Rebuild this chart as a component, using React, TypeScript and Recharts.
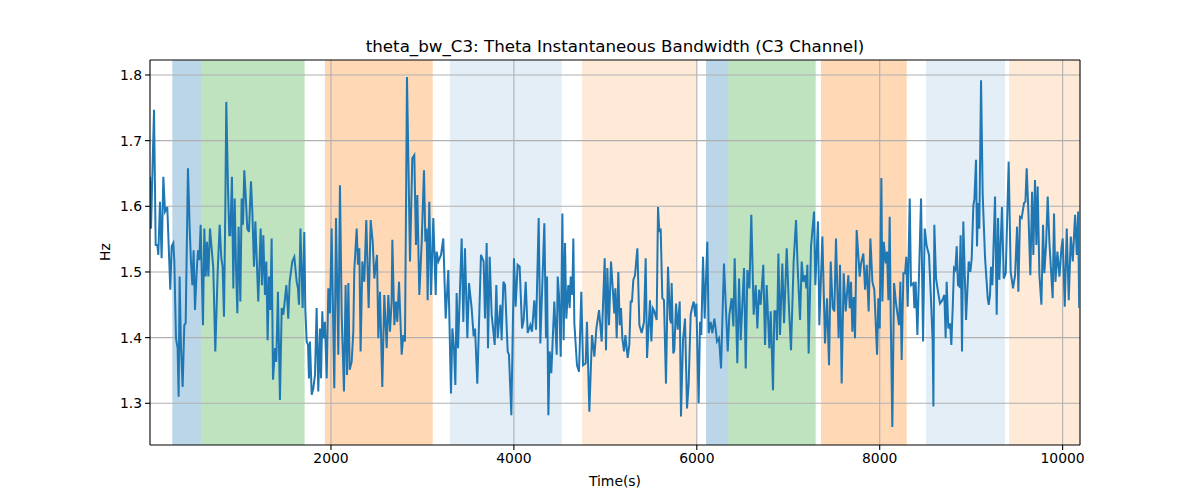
import React from "react";
import {
  Label,
  Line,
  LineChart,
  ReferenceArea,
  ReferenceLine,
  XAxis,
  YAxis,
} from "recharts";

// time (s) of each sample
const times = [
  21, 32, 65, 83, 101, 112, 130, 148, 167, 185, 210, 229, 243, 258, 276, 287, 305, 323, 334, 345,
  360, 378, 396, 411, 436, 455, 469, 484, 498, 513, 531, 546, 560, 575, 600, 615, 630, 644, 659, 677,
  695, 713, 735, 761, 783, 801, 815, 830, 845, 855, 874, 888, 899, 917, 932, 947, 961, 976, 990, 1009,
  1023, 1038, 1052, 1067, 1085, 1103, 1125, 1140, 1158, 1173, 1187, 1205, 1231, 1245, 1260, 1278, 1293, 1307, 1322, 1337,
  1351, 1366, 1388, 1402, 1420, 1442, 1461, 1479, 1512, 1533, 1548, 1577, 1599, 1625, 1639, 1650, 1666, 1690, 1708,
  1719, 1734, 1749, 1759, 1770, 1789, 1807, 1825, 1843, 1861, 1880, 1891, 1905, 1916, 1934, 1953, 1971, 1989, 2007, 2036,
  2055, 2080, 2098, 2117, 2142, 2160, 2175, 2190, 2204, 2226, 2244, 2255, 2281, 2295, 2310, 2324, 2343, 2364, 2386, 2412,
  2434, 2456, 2474, 2503, 2518, 2536, 2561, 2583, 2609, 2627, 2645, 2663, 2671, 2693, 2711, 2725, 2744, 2773, 2791, 2809,
  2831, 2864, 2889, 2911, 2929, 2944, 2966, 2992, 3017, 3032, 3046, 3057, 3075, 3094, 3119, 3145, 3155, 3174, 3203, 3228,
  3254, 3283, 3312, 3327, 3345, 3360, 3374, 3389,
  3429, 3447, 3465, 3491, 3509, 3538, 3560, 3575, 3600, 3618, 3640, 3669, 3684, 3702, 3717, 3735, 3757, 3790, 3808, 3823,
  3852, 3866, 3885, 3903, 3932, 3946, 3972, 4001, 4019, 4041, 4063, 4089, 4107, 4129, 4151, 4180, 4198, 4223, 4242, 4271,
  4289, 4333, 4351, 4362, 4377, 4391, 4409, 4442, 4468, 4479, 4493, 4512, 4530, 4544, 4559, 4573, 4595, 4610, 4621, 4639,
  4650, 4661, 4690, 4712, 4737, 4756, 4785, 4799, 4825, 4854, 4880, 4902, 4931, 4960, 4993, 5007, 5022, 5040, 5062, 5098,
  5109, 5124, 5142, 5157, 5171, 5186, 5204, 5219, 5244, 5262, 5277, 5291, 5306, 5324, 5350, 5372, 5397, 5423, 5441, 5456,
  5488, 5503, 5518, 5536, 5561, 5576, 5590, 5605, 5623, 5641, 5663, 5685, 5707, 5718, 5725, 5743, 5754, 5773, 5791, 5813,
  5827, 5849, 5871, 5893, 5911, 5933, 5948, 5966, 5984, 5995, 6020, 6035, 6049, 6068, 6086, 6115, 6130, 6152, 6170, 6192,
  6206, 6221, 6243, 6265, 6297, 6319, 6338, 6356, 6381, 6400, 6414, 6443, 6462, 6480, 6516, 6535, 6553, 6575, 6596, 6622,
  6644, 6662, 6680, 6698, 6727, 6746, 6764, 6793,
  6808, 6833, 6848, 6866, 6877, 6892, 6910, 6935, 6954, 6983, 7008, 7030, 7059, 7085, 7103, 7129, 7147, 7165, 7183, 7198,
  7209, 7223, 7249, 7282, 7296, 7325, 7340, 7373, 7402, 7424, 7446, 7464, 7486, 7504, 7522, 7551, 7566, 7584, 7606, 7628,
  7657, 7672, 7686, 7701, 7715, 7730, 7748, 7781, 7796, 7821, 7840, 7858, 7879, 7898, 7920, 7941, 7971, 7985, 8000, 8018,
  8029, 8044, 8066, 8080, 8095, 8109, 8120, 8138, 8157, 8178, 8211, 8226, 8240, 8259, 8277, 8291, 8306, 8328, 8342, 8368,
  8379, 8393, 8412, 8452, 8474,
  8492, 8514, 8539, 8557, 8579, 8587, 8597, 8616, 8634, 8659, 8685, 8707, 8721, 8732, 8750, 8769, 8783, 8798, 8812, 8827,
  8842, 8856, 8871, 8885, 8900, 8914, 8944, 8973, 8991, 9006, 9024, 9035, 9053, 9064, 9075, 9089, 9108, 9126, 9152, 9181,
  9192, 9206, 9217, 9232, 9261, 9279, 9294, 9308, 9337, 9356, 9378, 9410, 9432, 9458, 9480, 9502, 9516, 9534, 9552, 9578,
  9593, 9607, 9625, 9647, 9666, 9680, 9698, 9713, 9727, 9746, 9768, 9786, 9800, 9819, 9837, 9855, 9891, 9906, 9921, 9943,
  9965, 9987, 10001, 10023, 10045, 10067, 10089, 10111, 10136, 10155, 10170, 10181, 10190,
];

// theta instantaneous bandwidth, Hz
const bandwidth = [
  1.645, 1.566, 1.747, 1.541, 1.541, 1.526, 1.607, 1.521, 1.645, 1.592, 1.599, 1.526, 1.473, 1.539, 1.544, 1.516, 1.399, 1.384, 1.31, 1.493,
  1.384, 1.325, 1.419, 1.422, 1.658, 1.566, 1.516, 1.48, 1.533, 1.442, 1.5, 1.533, 1.518, 1.572, 1.419, 1.566, 1.493, 1.546, 1.493, 1.566,
  1.536, 1.506, 1.379, 1.5, 1.572, 1.521, 1.508, 1.432, 1.602, 1.759, 1.627, 1.556, 1.556, 1.645, 1.475, 1.612, 1.511, 1.437, 1.569, 1.455,
  1.612, 1.572, 1.655, 1.617, 1.566, 1.561, 1.638, 1.592, 1.508, 1.577, 1.523, 1.455, 1.566, 1.48, 1.556, 1.465, 1.516, 1.396, 1.493, 1.442,
  1.551, 1.336, 1.384, 1.363, 1.47, 1.305, 1.445, 1.435, 1.48, 1.429, 1.485, 1.516, 1.523, 1.485, 1.475, 1.45, 1.566, 1.445, 1.561,
  1.445, 1.394, 1.389, 1.338, 1.394, 1.313, 1.323, 1.343, 1.445, 1.318, 1.414, 1.338, 1.44, 1.399, 1.424, 1.338, 1.475, 1.437, 1.566, 1.323,
  1.582, 1.374, 1.632, 1.435, 1.318, 1.48, 1.343, 1.483, 1.351, 1.363, 1.409, 1.503, 1.566, 1.511, 1.536, 1.379, 1.516, 1.485, 1.579, 1.445,
  1.579, 1.546, 1.49, 1.526, 1.399, 1.47, 1.325, 1.465, 1.384, 1.465, 1.409, 1.455, 1.549, 1.419, 1.455, 1.424, 1.485, 1.374, 1.404, 1.394,
  1.797, 1.516, 1.673, 1.678, 1.541, 1.617, 1.465, 1.546, 1.655, 1.546, 1.566, 1.457, 1.607, 1.465, 1.582, 1.465, 1.531, 1.516, 1.526, 1.551,
  1.429, 1.503, 1.315, 1.414, 1.384, 1.328, 1.468, 1.384,
  1.551, 1.424, 1.536, 1.399, 1.483, 1.445, 1.402, 1.414, 1.33, 1.419, 1.526, 1.516, 1.429, 1.544, 1.384, 1.523, 1.435, 1.389, 1.48, 1.399,
  1.45, 1.396, 1.485, 1.48, 1.379, 1.374, 1.282, 1.521, 1.447, 1.511, 1.508, 1.414, 1.427, 1.485, 1.407, 1.419, 1.409, 1.457, 1.412, 1.582,
  1.391, 1.574, 1.399, 1.493, 1.282, 1.379, 1.346, 1.455, 1.374, 1.493, 1.465, 1.371, 1.589, 1.396, 1.544, 1.429, 1.48, 1.445, 1.493, 1.465,
  1.551, 1.422, 1.358, 1.348, 1.47, 1.358, 1.361, 1.424, 1.287, 1.404, 1.371, 1.414, 1.442, 1.394, 1.521, 1.381, 1.506, 1.419, 1.516, 1.437,
  1.475, 1.399, 1.5, 1.419, 1.445, 1.399, 1.379, 1.404, 1.369, 1.389, 1.455, 1.455, 1.488, 1.495, 1.536, 1.419, 1.407, 1.424, 1.521, 1.369,
  1.457, 1.394, 1.445, 1.44, 1.427, 1.599, 1.561, 1.566, 1.46, 1.457, 1.33, 1.508, 1.429, 1.422, 1.483, 1.376, 1.381, 1.452, 1.412, 1.455,
  1.28, 1.396, 1.429, 1.292, 1.33, 1.435, 1.445, 1.455, 1.432, 1.452, 1.3, 1.424, 1.404, 1.523, 1.429, 1.546, 1.407, 1.424, 1.407, 1.429,
  1.414, 1.394, 1.399, 1.353, 1.513, 1.442, 1.379, 1.435, 1.46, 1.417, 1.521, 1.361, 1.49, 1.396, 1.506, 1.353, 1.503, 1.475, 1.587, 1.435,
  1.48, 1.414, 1.473, 1.45, 1.511, 1.389, 1.48, 1.384,
  1.44, 1.32, 1.44, 1.44, 1.396, 1.528, 1.404, 1.513, 1.422, 1.536, 1.445, 1.381, 1.516, 1.579, 1.506, 1.427, 1.516, 1.485, 1.495, 1.475,
  1.511, 1.376, 1.539, 1.592, 1.48, 1.577, 1.419, 1.554, 1.391, 1.46, 1.358, 1.516, 1.445, 1.44, 1.551, 1.399, 1.511, 1.33, 1.498, 1.44,
  1.495, 1.445, 1.485, 1.409, 1.462, 1.399, 1.564, 1.493, 1.513, 1.528, 1.473, 1.511, 1.44, 1.551, 1.485, 1.473, 1.374, 1.46, 1.414, 1.643,
  1.455, 1.546, 1.513, 1.531, 1.457, 1.584, 1.435, 1.264, 1.483, 1.452, 1.419, 1.485, 1.366, 1.498, 1.498, 1.523, 1.447, 1.612, 1.48, 1.483,
  1.445, 1.485, 1.404, 1.612, 1.394,
  1.566, 1.539, 1.526, 1.47, 1.394, 1.295, 1.572, 1.49, 1.473, 1.452, 1.457, 1.465, 1.399, 1.485, 1.414, 1.422, 1.389, 1.445, 1.506, 1.503,
  1.539, 1.48, 1.478, 1.556, 1.379, 1.577, 1.427, 1.516, 1.5, 1.521, 1.602, 1.61, 1.671, 1.539, 1.605, 1.566, 1.792, 1.617, 1.521, 1.46,
  1.45, 1.465, 1.508, 1.48, 1.615, 1.435, 1.582, 1.488, 1.599, 1.49, 1.498, 1.668, 1.5, 1.475, 1.495, 1.569, 1.47, 1.584, 1.582, 1.605,
  1.607, 1.658, 1.594, 1.495, 1.622, 1.526, 1.64, 1.541, 1.63, 1.495, 1.45, 1.572, 1.498, 1.541, 1.615, 1.546, 1.46, 1.589, 1.485, 1.531,
  1.493, 1.536, 1.551, 1.447, 1.566, 1.457, 1.554, 1.516, 1.587, 1.526, 1.592, 1.445, 1.508,
];

// shaded stages along the recording
const bandStarts = [265, 586, 1934, 3301, 4745, 6101, 6344, 7358, 8506, 9414];
const bandEnds = [586, 1712, 3112, 4523, 5999, 6344, 7300, 8295, 9370, 10190];
const bandKinds = ["blue", "green", "orange", "paleBlue", "paleOrange", "blue", "green", "orange", "paleBlue", "paleOrange"];

const xTicks = [2000, 4000, 6000, 8000, 10000];
const yTicks = [1.3, 1.4, 1.5, 1.6, 1.7, 1.8];

const X_MIN = 21;
const X_MAX = 10190;
const Y_MIN = 1.2365;
const Y_MAX = 1.8228;

const bandStyle: Record<string, { fill: string; opacity: number }> = {
  blue: { fill: "#1f77b4", opacity: 0.3 },
  green: { fill: "#2ca02c", opacity: 0.3 },
  orange: { fill: "#ff7f0e", opacity: 0.3 },
  paleBlue: { fill: "#1f77b4", opacity: 0.12 },
  paleOrange: { fill: "#ff7f0e", opacity: 0.16 },
};

const font = "'DejaVu Sans', sans-serif";
const tickStyle = { fill: "#000", fontSize: 13.9, fontFamily: font };

const data = times.map((t, i) => ({ t, v: bandwidth[i] }));

export default function App() {
  return (
    <div style={{ position: "absolute", left: 0, top: 0, width: 1200, height: 500, background: "#fff" }}>
      <div
        style={{
          position: "absolute",
          left: 150,
          width: 930,
          top: 35,
          textAlign: "center",
          fontFamily: font,
          fontSize: 16.7,
          lineHeight: "22px",
          color: "#000",
        }}
      >
        theta_bw_C3: Theta Instantaneous Bandwidth (C3 Channel)
      </div>
      <LineChart width={1200} height={500} data={data} margin={{ top: 60, right: 120, left: 0, bottom: 0 }}>
        <XAxis
          dataKey="t"
          type="number"
          domain={[X_MIN, X_MAX]}
          allowDataOverflow
          ticks={xTicks}
          height={55}
          tick={tickStyle}
          tickSize={5}
          tickMargin={3}
          axisLine={{ stroke: "#000", strokeWidth: 1.1 }}
          tickLine={{ stroke: "#000", strokeWidth: 1.1 }}
        >
          <Label value="Time(s)" position="insideBottom" offset={14} style={tickStyle} />
        </XAxis>
        <YAxis
          type="number"
          domain={[Y_MIN, Y_MAX]}
          allowDataOverflow
          ticks={yTicks}
          width={150}
          tick={tickStyle}
          tickSize={5}
          tickMargin={3}
          tickFormatter={(v: number) => v.toFixed(1)}
          axisLine={{ stroke: "#000", strokeWidth: 1.1 }}
          tickLine={{ stroke: "#000", strokeWidth: 1.1 }}
        >
          <Label
            content={() => (
              <text
                x={110}
                y={252}
                transform="rotate(-90 110 252)"
                textAnchor="middle"
                style={tickStyle}
              >
                Hz
              </text>
            )}
          />
        </YAxis>
        {bandStarts.map((s, i) => (
          <ReferenceArea
            key={`band-${i}`}
            x1={s}
            x2={bandEnds[i]}
            fill={bandStyle[bandKinds[i]].fill}
            fillOpacity={bandStyle[bandKinds[i]].opacity}
            stroke="none"
            ifOverflow="hidden"
          />
        ))}
        {xTicks.map((x) => (
          <ReferenceLine key={`gx-${x}`} x={x} stroke="#b0b0b0" strokeWidth={1.1} />
        ))}
        {yTicks.map((y) => (
          <ReferenceLine key={`gy-${y}`} y={y} stroke="#b0b0b0" strokeWidth={1.1} />
        ))}
        <ReferenceLine y={Y_MAX} stroke="#000" strokeWidth={1.1} />
        <ReferenceLine x={X_MAX} stroke="#000" strokeWidth={1.1} />
        <Line
          type="linear"
          dataKey="v"
          stroke="#1f77b4"
          strokeWidth={2}
          dot={false}
          isAnimationActive={false}
        />
      </LineChart>
    </div>
  );
}
